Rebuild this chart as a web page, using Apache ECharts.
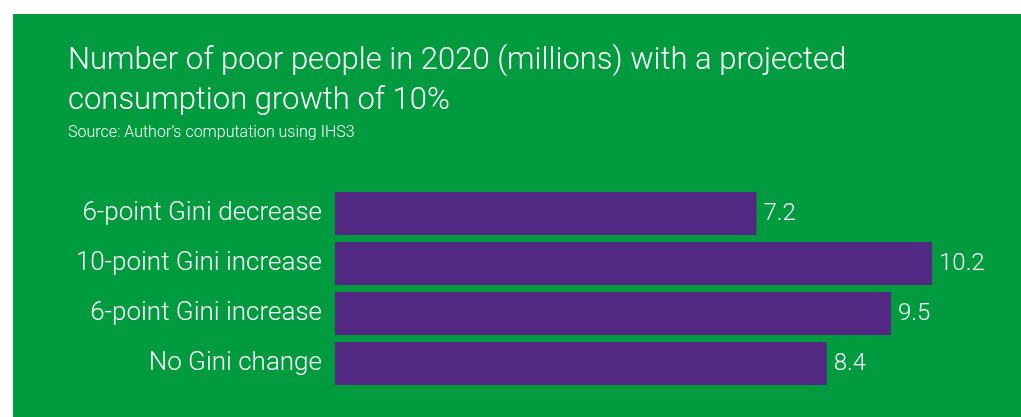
<!DOCTYPE html>
<html>
<head>
<meta charset="utf-8">
<script src="https://cdn.jsdelivr.net/npm/echarts@6/dist/echarts.min.js"></script>
<style>
html,body{margin:0;padding:0;background:#fff;}
#c{width:1021px;height:417px;}
</style>
</head>
<body>
<div id="c"></div>
<script>
const categories = ["6-point Gini decrease", "10-point Gini increase", "6-point Gini increase", "No Gini change"];
const values = [7.2, 10.2, 9.5, 8.4];
const titleText = "Number of poor people in 2020 (millions) with a projected\nconsumption growth of 10%";
const subText = "Source: Author\u2019s computation using IHS3";

const FONT = "Roboto";
const chart = echarts.init(document.getElementById('c'), null, {renderer: 'canvas'});
chart.setOption({
  backgroundColor: '#ffffff',
  animation: false,
  graphic: [{
    type: 'rect', z: -10, silent: true,
    shape: {x: 13, y: 14, width: 1008, height: 403},
    style: {fill: '#009b3e'}
  }],
  title: {
    text: titleText,
    subtext: subText,
    left: 63, top: 36,
    itemGap: 4,
    textStyle: {color: '#ffffff', fontFamily: FONT, fontWeight: 300, fontSize: 31, lineHeight: 40},
    subtextStyle: {color: '#ffffff', fontFamily: FONT, fontWeight: 300, fontSize: 16}
  },
  grid: {left: 335, width: 597, top: 188.5, height: 200, containLabel: false},
  xAxis: {type: 'value', min: 0, max: 10.2, show: false},
  yAxis: {
    type: 'category', data: categories, inverse: true,
    axisLine: {show: false}, axisTick: {show: false},
    axisLabel: {color: '#ffffff', fontFamily: FONT, fontWeight: 300, fontSize: 26, margin: 13}
  },
  series: [{
    type: 'bar', data: values, barCategoryGap: '14%',
    itemStyle: {color: '#522882'},
    label: {show: true, position: 'right', distance: 7, color: '#ffffff', fontFamily: FONT, fontWeight: 300, fontSize: 24,
      formatter: p => p.value.toFixed(1)}
  }]
});
</script>
</body>
</html>
